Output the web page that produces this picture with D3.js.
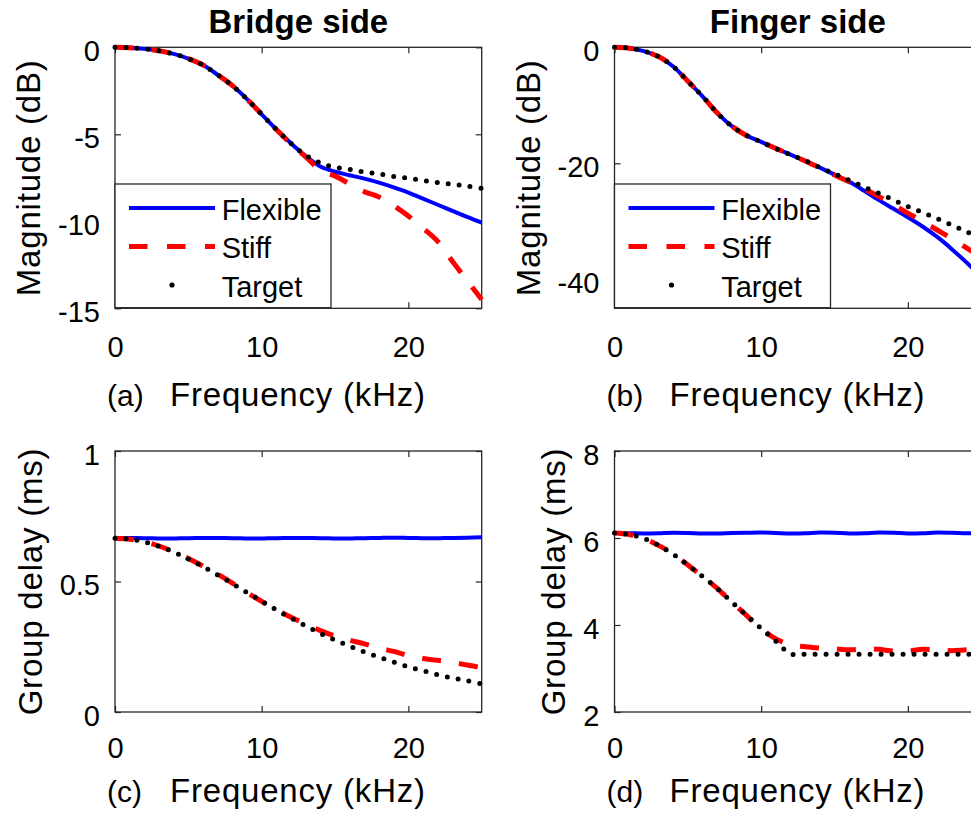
<!DOCTYPE html>
<html><head><meta charset="utf-8">
<script src="https://cdn.jsdelivr.net/npm/d3@7"></script>
<style>
body{margin:0;background:#fff}
text{font-family:"Liberation Sans",Arial,Helvetica,sans-serif;fill:#000}
</style>
</head><body>
<svg id="chart" width="971" height="817"></svg>
<script>
// ---------- data ----------
const freqKHz = [0,1,2,3,4,5,6,7,8,9,10,11,12,13,14,15,16,17,18,19,20,21,22,23,24,25];

// (a) Bridge side, magnitude (dB)
const magBridgeFlexible = [0,-0.02,-0.09,-0.2,-0.38,-0.65,-1.02,-1.58,-2.2,-2.98,-3.85,-4.72,-5.52,-6.25,-6.85,-7.15,-7.35,-7.55,-7.78,-8.05,-8.35,-8.7,-9.05,-9.4,-9.75,-10.08];
const magBridgeStiff    = [0,-0.02,-0.09,-0.2,-0.38,-0.65,-1.02,-1.58,-2.2,-2.98,-3.85,-4.72,-5.55,-6.3,-7.05,-7.4,-7.85,-8.3,-8.6,-9.1,-9.7,-10.4,-11.15,-12.3,-13.4,-14.5];
const magBridgeTarget   = [0,-0.02,-0.09,-0.2,-0.38,-0.65,-1.02,-1.58,-2.2,-2.98,-3.85,-4.72,-5.52,-6.2,-6.65,-6.9,-7.02,-7.17,-7.28,-7.42,-7.53,-7.65,-7.77,-7.87,-7.98,-8.1];

// (b) Finger side, magnitude (dB)
const magFingerFlexible = [0,-0.15,-0.65,-1.6,-3.3,-5.85,-8.45,-11.3,-13.6,-15.2,-16.3,-17.45,-18.5,-19.6,-20.75,-21.95,-23.2,-24.7,-26.3,-27.8,-29.3,-30.9,-32.7,-34.8,-37.1,-39.5];
const magFingerStiff    = [0,-0.15,-0.65,-1.6,-3.3,-5.85,-8.45,-11.3,-13.6,-15.2,-16.3,-17.45,-18.5,-19.6,-20.8,-22.0,-23.2,-24.4,-25.7,-27.1,-28.6,-30.0,-31.5,-33.0,-34.6,-36.2];
const magFingerTarget   = [0,-0.15,-0.65,-1.6,-3.3,-5.85,-8.45,-11.3,-13.6,-15.2,-16.3,-17.45,-18.5,-19.55,-20.7,-21.8,-22.9,-24.05,-25.15,-26.3,-27.45,-28.45,-29.55,-30.65,-31.8,-32.9];

// (c) Bridge side, group delay (ms)
const gdBridgeFlexible = [0.667,0.667,0.666,0.665,0.665,0.666,0.667,0.667,0.666,0.665,0.665,0.666,0.667,0.667,0.666,0.665,0.665,0.666,0.667,0.668,0.667,0.666,0.666,0.667,0.668,0.670];
const gdBridgeStiff    = [0.666,0.662,0.652,0.636,0.614,0.588,0.559,0.528,0.494,0.458,0.424,0.392,0.363,0.337,0.312,0.291,0.275,0.261,0.245,0.232,0.217,0.205,0.198,0.19,0.18,0.17];
const gdBridgeTarget   = [0.666,0.662,0.652,0.635,0.613,0.586,0.557,0.525,0.492,0.458,0.425,0.391,0.36,0.33,0.301,0.276,0.252,0.23,0.21,0.191,0.173,0.158,0.143,0.13,0.12,0.108];

// (d) Finger side, group delay (ms)
const gdFingerFlexible = [6.115,6.11,6.105,6.11,6.12,6.115,6.105,6.105,6.115,6.12,6.125,6.115,6.105,6.11,6.125,6.12,6.105,6.11,6.125,6.12,6.105,6.11,6.125,6.12,6.11,6.11];
const gdFingerStiff    = [6.115,6.08,5.99,5.83,5.63,5.38,5.12,4.84,4.53,4.22,3.92,3.68,3.55,3.5,3.47,3.45,3.43,3.45,3.44,3.4,3.4,3.44,3.43,3.41,3.43,3.44];
const gdFingerTarget   = [6.115,6.08,5.99,5.83,5.63,5.38,5.12,4.84,4.53,4.22,3.92,3.63,3.34,3.33,3.33,3.33,3.33,3.33,3.33,3.33,3.33,3.33,3.33,3.33,3.33,3.33];

const xTicks = [0,10,20];
const yTicksMagBridge = [0,-5,-10,-15];
const yTicksMagFinger = [0,-20,-40];
const yTicksGdBridge = [0,0.5,1];
const yTicksGdFinger = [2,4,6,8];

const seriesNames = ["Flexible","Stiff","Target"];
const titles = ["Bridge side","Finger side"];
const panelTags = ["(a)","(b)","(c)","(d)"];
const xLabel = "Frequency (kHz)";
const yLabels = ["Magnitude (dB)","Group delay (ms)"];

// ---------- layout / styles ----------
const PW = 366.7, PH = 261;
const panels = [
  {left:115, top:47.3, ydom:[-15,0], ticks:yTicksMagBridge, series:[magBridgeFlexible,magBridgeStiff,magBridgeTarget], tag:panelTags[0], ylab:yLabels[0], ylabX:40, tickBase:357, labBase:406, legend:true},
  {left:614.5, top:47.3, ydom:[-45,0], ticks:yTicksMagFinger, series:[magFingerFlexible,magFingerStiff,magFingerTarget], tag:panelTags[1], ylab:yLabels[0], ylabX:540, tickBase:357, labBase:406, legend:true},
  {left:115, top:451, ydom:[0,1], ticks:yTicksGdBridge, series:[gdBridgeFlexible,gdBridgeStiff,gdBridgeTarget], tag:panelTags[2], ylab:yLabels[1], ylabX:42, tickBase:758, labBase:802, legend:false},
  {left:614.5, top:451, ydom:[2,8], ticks:yTicksGdFinger, series:[gdFingerFlexible,gdFingerStiff,gdFingerTarget], tag:panelTags[3], ylab:yLabels[1], ylabX:565, tickBase:758, labBase:802, legend:false}
];
const styles = [
  {stroke:"#0000ff", width:4, dash:null, cap:"butt"},
  {stroke:"#ff0000", width:5, dash:"19 18", cap:"butt"},
  {stroke:"#000000", width:5, dash:"0 11", cap:"round"}
];
const axisColor = "#262626";
const tickFs = 29, labFs = 33, titleFs = 33, legFs = 29;

const svg = d3.select("#chart");

// titles
svg.append("text").attr("x", 115 + PW/2).attr("y", 33).attr("text-anchor","middle")
  .style("font-size", titleFs+"px").style("font-weight","bold").text(titles[0]);
svg.append("text").attr("x", 614.5 + PW/2).attr("y", 33).attr("text-anchor","middle")
  .style("font-size", titleFs+"px").style("font-weight","bold").text(titles[1]);

panels.forEach(p => {
  const x = d3.scaleLinear().domain([0,25]).range([0,PW]);
  const y = d3.scaleLinear().domain(p.ydom).range([PH,0]);
  const g = svg.append("g").attr("transform", `translate(${p.left},${p.top})`);

  // axes (ticks inside, box)
  const styleAxis = sel => {
    sel.select(".domain").remove();
    sel.selectAll(".tick line").attr("stroke", axisColor).attr("stroke-width",1.2);
    sel.selectAll("text").style("font-size", tickFs+"px").attr("fill", axisColor)
       .style("font-family",'"Liberation Sans",Arial,sans-serif');
  };
  const ax = g.append("g").attr("transform",`translate(0,${PH})`)
    .call(d3.axisBottom(x).tickValues(xTicks).tickSizeInner(-6).tickSizeOuter(0).tickFormat(d3.format("d")));
  styleAxis(ax);
  ax.selectAll("text").attr("y", p.tickBase - p.top - PH).attr("dy", null);
  const axT = g.append("g").call(d3.axisTop(x).tickValues(xTicks).tickSizeInner(-6).tickSizeOuter(0).tickFormat(""));
  styleAxis(axT);
  const ay = g.append("g").call(d3.axisLeft(y).tickValues(p.ticks).tickSizeInner(-6).tickSizeOuter(0).tickFormat(d => String(d)));
  styleAxis(ay);
  ay.selectAll("text").attr("x", -15).attr("dy", null).attr("y", 0.36*tickFs + 3);
  const ayR = g.append("g").attr("transform",`translate(${PW},0)`)
    .call(d3.axisRight(y).tickValues(p.ticks).tickSizeInner(-6).tickSizeOuter(0).tickFormat(""));
  styleAxis(ayR);
  g.append("rect").attr("x",0).attr("y",0).attr("width",PW).attr("height",PH)
    .attr("fill","none").attr("stroke",axisColor).attr("stroke-width",1.3);

  // series
  const line = d3.line().x((d,i)=>x(freqKHz[i])).y(d=>y(d)).curve(d3.curveCatmullRom);
  p.series.forEach((s,k) => {
    const st = styles[k];
    const path = g.append("path").datum(s).attr("d", line).attr("fill","none")
      .attr("stroke", st.stroke).attr("stroke-width", st.width).attr("stroke-linecap", st.cap)
      .attr("stroke-linejoin","round");
    if (st.dash) path.attr("stroke-dasharray", st.dash);
  });

  // legend
  if (p.legend) {
    const lg = g.append("g");
    lg.append("rect").attr("x",0).attr("y",136.7).attr("width",216).attr("height",123.7)
      .attr("fill","#fff").attr("stroke",axisColor).attr("stroke-width",1.3);
    seriesNames.forEach((name,k) => {
      const ry = 160.7 + k*38.5;
      const st = styles[k];
      if (k < 2) {
        const l = lg.append("line").attr("x1",14).attr("x2",100).attr("y1",ry).attr("y2",ry)
          .attr("stroke",st.stroke).attr("stroke-width",st.width);
        if (st.dash) l.attr("stroke-dasharray","18.5 19.5");
      } else {
        lg.append("circle").attr("cx",57).attr("cy",ry).attr("r",2.6).attr("fill","#000");
      }
      lg.append("text").attr("x",106.7).attr("y",ry+12).style("font-size",legFs+"px").text(name);
    });
  }

  // labels
  svg.append("text").attr("x", p.left - 8).attr("y", p.labBase).style("font-size","30px").attr("fill",axisColor).text(p.tag);
  svg.append("text").attr("x", p.left + 55).attr("y", p.labBase).style("font-size", labFs+"px")
    .style("letter-spacing","0.8px").attr("fill",axisColor).text(xLabel);
  svg.append("text").attr("transform", `translate(${p.ylabX},${p.top + PH/2}) rotate(-90)`)
    .attr("text-anchor","middle").style("font-size", labFs+"px").style("letter-spacing","0.8px")
    .attr("fill",axisColor).text(p.ylab);
});
</script>
</body></html>
